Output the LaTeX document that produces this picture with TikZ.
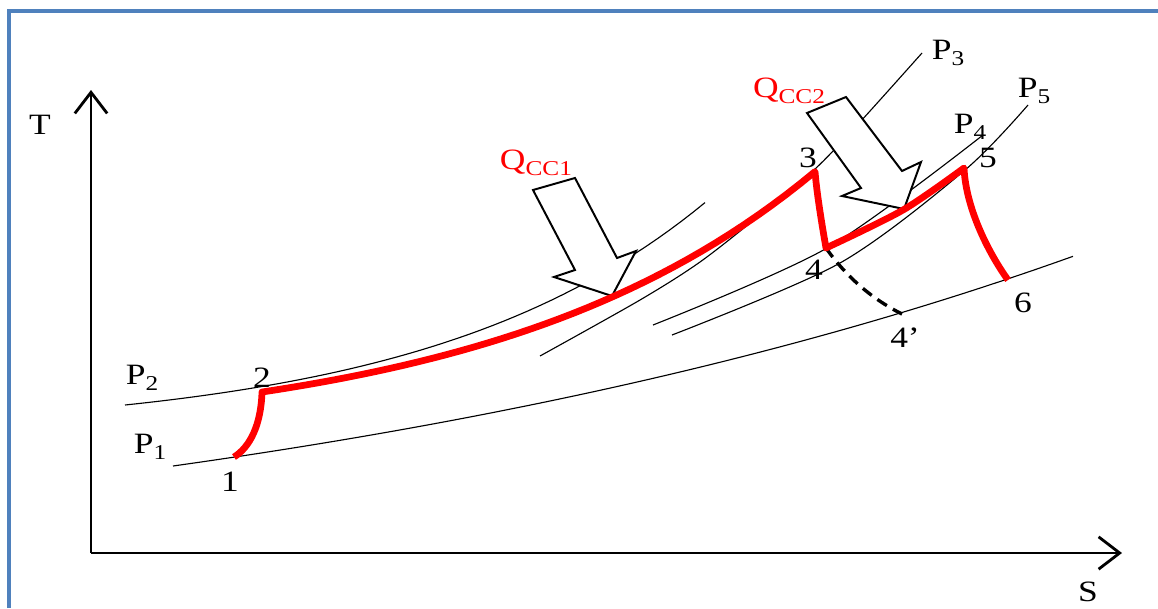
\documentclass[tikz,border=0pt]{standalone}
\usepackage{fontspec}
\setmainfont{Liberation Serif}[FakeStretch=1.2]
\usetikzlibrary{arrows.meta}
\definecolor{FrameBlue}{HTML}{4F81BD}
\definecolor{CycleRed}{HTML}{FF0000}
\newcommand{\lowsub}[2][15]{\raisebox{-0.45ex}{\fontsize{#1}{#1}\selectfont #2}}

\begin{document}
\begin{tikzpicture}[x=0.025cm,y=-0.025cm,
    isobar/.style={line width=0.8pt},
    proc/.style={draw=CycleRed,line width=4.8pt,line join=round},
    expn/.style={line width=2.4pt,dash pattern=on 8pt off 5pt},
    heat/.style={draw,line width=1.4pt,fill=white,line join=miter},
    axis/.style={line width=2pt,-{Straight Barb[length=15pt,width=23pt]}},
    lbl/.style={font=\fontsize{21}{24}\selectfont,inner sep=0pt},
    qlbl/.style={lbl,text=CycleRed}]
    \useasboundingbox (0,0) rectangle (1158,608);
    \draw[FrameBlue,line width=2.2pt] (9,608) -- (9,11) -- (1158,11);
    % axes
    \coordinate (O) at (91,553);
    \coordinate (Tend) at (91,90);
    \coordinate (Send) at (1122,553);
    \draw[axis] (O) -- (Tend);
    \draw[axis] (O) -- (Send);
    \node[lbl] (T) at (40,125) {T};
    \node[lbl] (S) at (1088,592) {S};
    % isobars
    \draw[isobar] plot[domain=173:1073,samples=50] (\x,{601.8-135.8*exp(0.00104*(\x-173))});
    \draw[isobar] plot[domain=125:705,samples=50] (\x,{434.5-29.5*exp(0.00355*(\x-125))});
    \draw[isobar] plot[smooth] coordinates {(540,356) (640,300) (700,262) (760,215) (815,169) (860,122) (922,53)};
    \draw[isobar] plot[smooth] coordinates {(653,325) (827,248) (983,135)};
    \draw[isobar] plot[smooth] coordinates {(672,335) (840,263) (965,170) (1028,105)};
    \node[lbl] (p1) at (150,447) {P\lowsub{1}};
    \node[lbl] (p2) at (142,378) {P\lowsub{2}};
    \node[lbl] (p3) at (948,53) {P\lowsub{3}};
    \node[lbl] (p4) at (970,127) {P\lowsub{4}};
    \node[lbl] (p5) at (1034,91) {P\lowsub{5}};
    % heat input
    \draw[heat] (533,190) -- (575,178) -- (617,258) -- (636,251) -- (612,296) -- (554,277) -- (575,270) -- cycle;
    \draw[heat] (807,113) -- (846,97) -- (902,171) -- (921,162) -- (904,209) -- (842,196) -- (861,188) -- cycle;
    \node[qlbl] (qcc1) at (536,163) {Q\lowsub{CC1}};
    \node[qlbl] (qcc2) at (789,91) {Q\lowsub{CC2}};
    % cycle states
    \coordinate (s1) at (234,457);
    \coordinate (s2) at (262,392);
    \coordinate (s3) at (815,171);
    \coordinate (s4) at (826,248);
    \coordinate (s4p) at (902,314);
    \coordinate (s5) at (964,168);
    \coordinate (s6) at (1008,280);
    \draw[expn] (s4) .. controls (845,275) and (870,298) .. (s4p);
    \draw[proc] (s1) .. controls (250,447) and (261,425) .. (s2)
        -- plot[domain=262:815,samples=40] (\x,{440.5-48.5*exp(0.0031*(\x-262))})
        .. controls (817,195) and (822,225) .. (s4)
        -- plot[smooth] coordinates {(s4) (903,210) (s5)}
        .. controls (966,210) and (990,255) .. (s6);
    \node[lbl] (n1) at (230,482) {1};
    \node[lbl] (n2) at (262,378) {2};
    \node[lbl] (n3) at (808,158) {3};
    \node[lbl] (n4) at (814,270) {4};
    \node[lbl] (n4p) at (905,338) {4’};
    \node[lbl] (n5) at (988,158) {5};
    \node[lbl] (n6) at (1023,303) {6};
\end{tikzpicture}
\end{document}
